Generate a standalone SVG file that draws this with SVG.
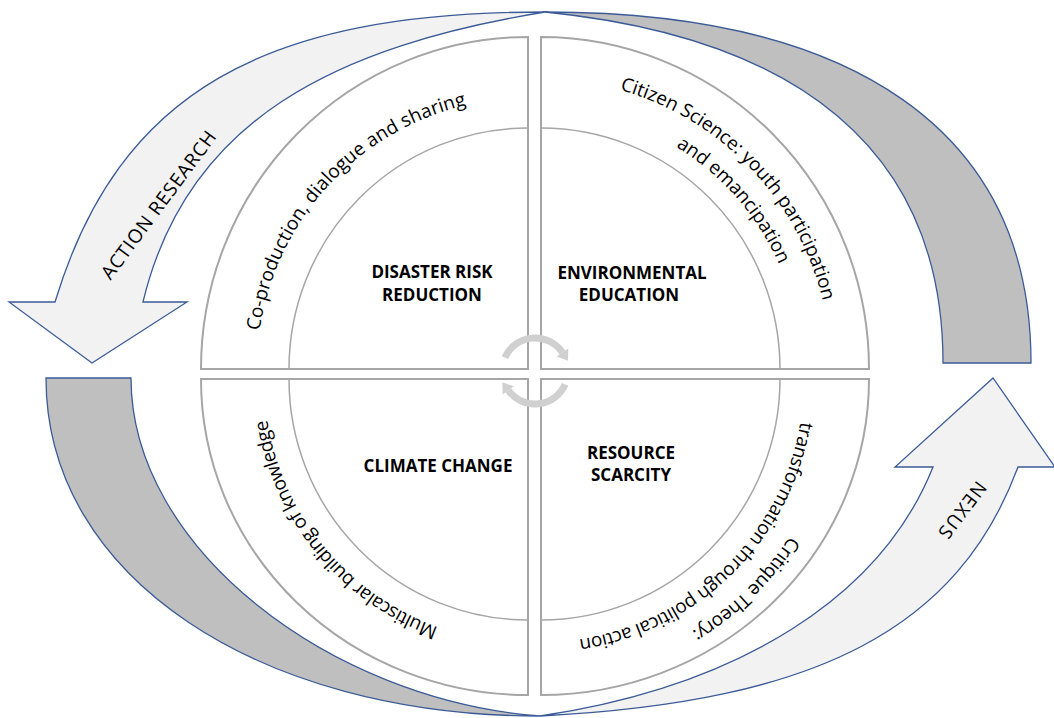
<svg xmlns="http://www.w3.org/2000/svg" width="1054" height="718" viewBox="0 0 1054 718">
<style>
.quad{fill:#fff;stroke:#a6a6a6;stroke-width:2}
.inner{fill:none;stroke:#a6a6a6;stroke-width:1.5}
.arl{fill:#f2f2f2;stroke:#3b5b98;stroke-width:1.3;stroke-linejoin:miter}
.ard{fill:#bfbfbf;stroke:#3b5b98;stroke-width:1.3}
.lbl{font-family:"Open Sans","Liberation Sans",sans-serif;font-size:19px;fill:#000}
.bold{font-family:"Open Sans","Liberation Sans",sans-serif;font-weight:700;font-size:17px;fill:#000;text-anchor:middle}
.cyc{fill:none;stroke:#d0d0d0;stroke-width:7}
.cych{fill:#d0d0d0}
</style>
<defs>
<path id="pTL" d="M 257,369 A 271 271 0 0 1 528,98"/>
<path id="pTR1" d="M 541,79 A 290 290 0 0 1 831,369"/>
<path id="pTR2" d="M 541,109 A 260 260 0 0 1 801,369"/>
<path id="pBL" d="M 528,643 A 264 264 0 0 1 264,379"/>
<path id="pBR1" d="M 835,379 A 294 294 0 0 1 541,673"/>
<path id="pBR2" d="M 804,379 A 263 263 0 0 1 541,642"/>
</defs>
<rect width="1054" height="718" fill="#fff"/>

<g id="ring-arrows">
<g id="arrow-action-research">
<path class="arl" d="M 545,12 C 265,12 119,91 55,302 L 9,302 L 92,363 L 187,302 L 143,302 C 187,118 338,46 545,12 Z"/>
<text class="lbl" transform="translate(158.5,205) rotate(-53.4)" text-anchor="middle" dy="0.35em" textLength="179" lengthAdjust="spacing">ACTION RESEARCH</text>
</g>
<g id="band-top-right">
<path class="ard" d="M 545,12 C 850,12 1031,128 1031,363 L 943,363 C 943,148 795,37 545,12 Z"/>
</g>
<g id="band-bottom-left">
<path class="ard" d="M 46,378 C 46,578 260,716 540,716 C 330,700 131,548 131,378 Z"/>
</g>
<g id="arrow-nexus">
<path class="arl" d="M 540,716 C 820,702 958.5,627 1018,467 L 1055,467 L 993,378 L 895,467 L 933,467 C 881,597 740,686 540,716 Z"/>
<text class="lbl" transform="translate(962.5,510) rotate(127)" text-anchor="middle" dy="0.35em" textLength="66" lengthAdjust="spacing">NEXUS</text>
</g>
</g>

<g id="q-disaster-risk-reduction">
<path class="quad" d="M 528,369 L 201,369 A 327 332 0 0 1 528,37 Z"/>
<path class="inner" d="M 289,369 A 239 241 0 0 1 528,128"/>
<text class="lbl" text-anchor="middle"><textPath href="#pTL" startOffset="47.2%" textLength="325" lengthAdjust="spacing">Co-production, dialogue and sharing</textPath></text>
<text class="bold" x="432" y="278">DISASTER RISK</text>
<text class="bold" x="432" y="301">REDUCTION</text>
</g>

<g id="q-environmental-education">
<path class="quad" d="M 541,369 L 541,37 A 328 332 0 0 1 869,369 Z"/>
<path class="inner" d="M 541,128 A 239 241 0 0 1 780,369"/>
<text class="lbl" text-anchor="middle"><textPath href="#pTR1" startOffset="51.2%" textLength="307" lengthAdjust="spacing">Citizen Science: youth participation</textPath></text>
<text class="lbl" text-anchor="middle"><textPath href="#pTR2" startOffset="54.2%" textLength="159" lengthAdjust="spacing">and emancipation</textPath></text>
<text class="bold" x="632" y="279">ENVIRONMENTAL</text>
<text class="bold" x="629" y="301">EDUCATION</text>
</g>

<g id="q-climate-change">
<path class="quad" d="M 528,379 L 528,695 A 327 316 0 0 1 201,379 Z"/>
<path class="inner" d="M 528,620 A 239 241 0 0 1 289,379"/>
<text class="lbl" text-anchor="middle"><textPath href="#pBL" startOffset="56.1%" textLength="282" lengthAdjust="spacing">Multiscalar building of knowledge</textPath></text>
<text class="bold" x="438" y="472">CLIMATE CHANGE</text>
</g>

<g id="q-resource-scarcity">
<path class="quad" d="M 541,379 L 869,379 A 328 316 0 0 1 541,695 Z"/>
<path class="inner" d="M 780,379 A 239 241 0 0 1 541,620"/>
<text class="lbl" text-anchor="middle"><textPath href="#pBR1" startOffset="50.8%" textLength="138" lengthAdjust="spacing">Critique Theory:</textPath></text>
<text class="lbl" text-anchor="middle"><textPath href="#pBR2" startOffset="50.6%" textLength="332" lengthAdjust="spacing">transformation through political action</textPath></text>
<text class="bold" x="631" y="459">RESOURCE</text>
<text class="bold" x="631" y="481">SCARCITY</text>
</g>

<g id="connectors">
<path class="cyc" d="M 504.9,357.6 A 33 33 0 0 1 562.4,352.5"/>
<polygon class="cych" points="568.0,360.8 568.2,348.6 556.6,356.4"/>
<path class="cyc" d="M 565.1,384.4 A 33 33 0 0 1 508.3,390.4"/>
<polygon class="cych" points="502.4,382.3 514.0,386.3 502.6,394.5"/>
</g>
</svg>
